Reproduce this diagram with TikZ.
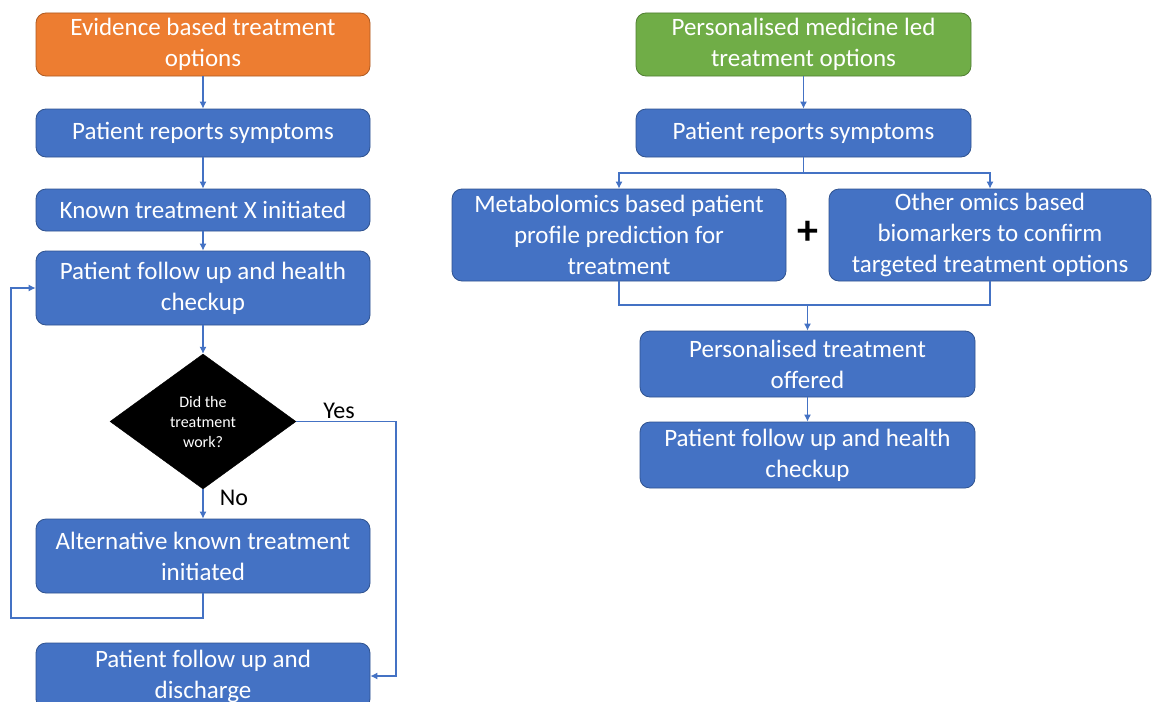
\documentclass[tikz,border=0pt]{standalone}
\usepackage{fontspec}
\setmainfont{Carlito}
\usetikzlibrary{shapes.geometric,arrows.meta}
\definecolor{boxblue}{HTML}{4472C4}
\definecolor{boxblueedge}{HTML}{2F528F}
\definecolor{boxorange}{HTML}{ED7D31}
\definecolor{boxorangeedge}{HTML}{AE5A21}
\definecolor{boxgreen}{HTML}{70AD47}
\definecolor{boxgreenedge}{HTML}{507E32}
\begin{document}
\begin{tikzpicture}[x=1pt,y=-1pt,
  stepbox/.style={draw=boxblueedge, fill=boxblue, line width=0.8pt, rounded corners=10pt,
    text=white, align=center, inner sep=0pt, minimum width=334pt,
    font=\fontsize{25}{31}\selectfont},
  headorange/.style={stepbox, draw=boxorangeedge, fill=boxorange},
  headgreen/.style={stepbox, draw=boxgreenedge, fill=boxgreen},
  decision/.style={diamond, fill=black, draw=black, text=white, align=center,
    inner sep=0pt, minimum width=186pt, minimum height=135pt,
    font=\fontsize{16}{20}\selectfont},
  link/.style={draw=boxblue, line width=1.1pt, -{Latex[length=7pt,width=7pt]}},
  plain/.style={draw=boxblue, line width=1.1pt},
  tag/.style={text=black, font=\fontsize{24}{28}\selectfont, inner sep=0pt}
]
\clip (0,0) rectangle (1153,701);
\fill[white] (0,0) rectangle (1153,701);

% ---- evidence based pathway ----
\node[headorange, minimum height=63pt] (ev) at (203,44.5) {Evidence based treatment\\options};
\node[stepbox, minimum height=48pt] (lrep) at (203,133) {Patient reports symptoms};
\node[stepbox, minimum height=42pt] (known) at (203,210) {Known treatment X initiated};
\node[stepbox, minimum height=74pt] (lfu) at (203,288) {Patient follow up and health\\checkup};
\node[decision] (dia) at (203,421.5) {Did the\\treatment\\work?};
\node[stepbox, minimum height=74pt] (alt) at (203,556) {Alternative known treatment\\initiated};
\node[stepbox, minimum height=66pt] (dis) at (203,676) {Patient follow up and\\discharge};

\draw[link] (ev) -- (lrep);
\draw[link] (lrep) -- (known);
\draw[link] (known) -- (lfu);
\draw[link] (lfu) -- (dia);
\draw[link] (dia) -- (alt);
\node[tag] (no) at (234,498) {No};
\node[tag] (yes) at (339,411) {Yes};

\coordinate (loopdown) at (203,618);
\coordinate (loopleft) at (11,618);
\coordinate (loopup) at (11,288);
\draw[link] (alt.south) -- (loopdown) -- (loopleft) -- (loopup) -- (lfu.west);

\coordinate (yesright) at (396,421.5);
\coordinate (yesdown) at (396,676);
\draw[link] (dia.east) -- (yesright) -- (yesdown) -- (dis.east);

% ---- personalised medicine pathway ----
\node[headgreen, minimum width=335pt, minimum height=63pt] (pm) at (803.5,44.5) {Personalised medicine led\\treatment options};
\node[stepbox, minimum width=335pt, minimum height=48pt] (rrep) at (803.5,133) {Patient reports symptoms};
\node[stepbox, minimum width=334pt, minimum height=92pt] (met) at (619,235) {Metabolomics based patient\\profile prediction for\\treatment};
\node[stepbox, minimum width=322pt, minimum height=92pt] (oth) at (990,235) {Other omics based\\biomarkers to confirm\\targeted treatment options};
\node[text=black, inner sep=0pt, font=\fontsize{42}{42}\selectfont\bfseries] (plus) at (808,233) {+};
\node[stepbox, minimum width=335pt, minimum height=66pt] (pto) at (807.5,364) {Personalised treatment\\offered};
\node[stepbox, minimum width=335pt, minimum height=66pt] (rfu) at (807.5,455) {Patient follow up and health\\checkup};

\draw[link] (pm) -- (rrep);
\coordinate (split) at (803.5,173);
\draw[plain] (rrep.south) -- (split);
\draw[link] (split) -| (met.north);
\draw[link] (split) -| (oth.north);

\coordinate (merge) at (807.5,305);
\draw[plain] (met.south) |- (merge);
\draw[plain] (oth.south) |- (merge);
\draw[link] (merge) -- (pto.north);
\draw[link] (pto) -- (rfu);
\end{tikzpicture}
\end{document}
